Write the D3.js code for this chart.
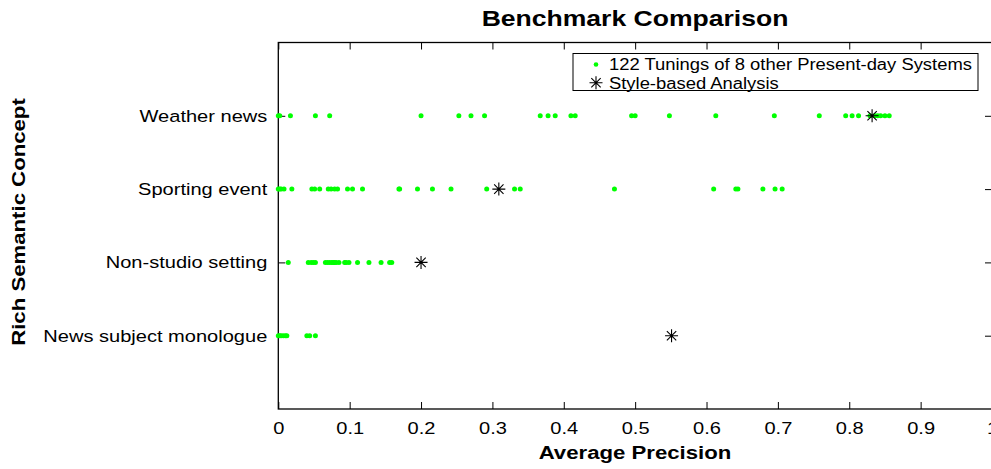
<!DOCTYPE html>
<html>
<head>
<meta charset="utf-8">
<script src="https://cdn.jsdelivr.net/npm/d3@7"></script>
<style>
  body { margin: 0; background: #fff; }
  svg { display: block; font-family: "Liberation Sans", Arial, Helvetica, sans-serif; }
</style>
</head>
<body>
<script>
// concepts, bottom to top (y = 1..4)
var concepts = ["News subject monologue", "Non-studio setting", "Sporting event", "Weather news"];

// average precision of the 122 tunings of other systems, per concept
var otherMonologue = [0, 0.002, 0.004, 0.007, 0.010, 0.012, 0.040, 0.044, 0.052];
var otherNonStudio = [0.014, 0.042, 0.046, 0.049, 0.052, 0.066, 0.069, 0.072, 0.075, 0.077, 0.079, 0.081,
  0.085, 0.093, 0.095, 0.099, 0.111, 0.127, 0.144, 0.156, 0.159];
var otherSporting = [0, 0.002, 0.004, 0.008, 0.019, 0.047, 0.051, 0.058, 0.070, 0.074, 0.079, 0.083, 0.097,
  0.104, 0.118, 0.169, 0.170, 0.195, 0.216, 0.242, 0.292, 0.331, 0.339, 0.471, 0.610, 0.641, 0.644,
  0.679, 0.696, 0.706];
var otherWeather = [0, 0.002, 0.017, 0.052, 0.072, 0.200, 0.253, 0.270, 0.289, 0.367, 0.378, 0.388, 0.410,
  0.416, 0.495, 0.500, 0.548, 0.613, 0.695, 0.758, 0.795, 0.804, 0.813, 0.829, 0.836, 0.840, 0.844,
  0.850, 0.856];
var otherSystems = [otherMonologue, otherNonStudio, otherSporting, otherWeather];

// style-based analysis, per concept
var styleBased = [0.551, 0.200, 0.309, 0.832];

var xTicks = [0, 0.1, 0.2, 0.3, 0.4, 0.5, 0.6, 0.7, 0.8, 0.9, 1];
var xTickLabels = ["0", "0.1", "0.2", "0.3", "0.4", "0.5", "0.6", "0.7", "0.8", "0.9", "1"];
var legendLabels = ["122 Tunings of 8 other Present-day Systems", "Style-based Analysis"];

var W = 991, H = 469, sx = 1.18; // text in the picture is stretched sideways
var plotL = 278.3, plotR = 992, plotT = 42.5, plotB = 409;

var svg = d3.select("body").append("svg").attr("width", W).attr("height", H);

var x = d3.scaleLinear().domain([0, 1]).range([plotL, plotR]);
var y = d3.scaleLinear().domain([0, 5]).range([plotB, plotT]);

function stretch(sel) {
  sel.attr("transform", "scale(" + sx + ",1)");
}

// axes (ticks inward, like matlab)
var gx = svg.append("g").attr("transform", "translate(0," + plotB + ")")
  .call(d3.axisBottom(x).tickValues(xTicks).tickFormat(function (d, i) { return xTickLabels[i]; })
    .tickSizeInner(-7).tickSizeOuter(0));
gx.selectAll("text").attr("y", 12.5).attr("dy", "0.71em").style("font-size", "17px").call(stretch);

svg.append("g").attr("transform", "translate(0," + plotT + ")")
  .call(d3.axisTop(x).tickValues(xTicks).tickFormat("").tickSizeInner(-7).tickSizeOuter(0));

var gy = svg.append("g").attr("transform", "translate(" + plotL + ",0)")
  .call(d3.axisLeft(y).tickValues([1, 2, 3, 4]).tickFormat(function (d) { return concepts[d - 1]; })
    .tickSizeInner(-7).tickSizeOuter(0));
gy.selectAll("text").attr("x", -11 / sx).style("font-size", "17px").call(stretch);

svg.append("g").attr("transform", "translate(" + plotR + ",0)")
  .call(d3.axisRight(y).tickValues([1, 2, 3, 4]).tickFormat("").tickSizeInner(-7).tickSizeOuter(0));

svg.selectAll(".domain").remove();
svg.selectAll(".tick line").attr("stroke", "#000").attr("stroke-width", 1);
svg.selectAll(".tick text").attr("fill", "#000");
svg.selectAll("g[font-family]").attr("font-family", null);

svg.append("rect").attr("x", plotL).attr("y", plotT).attr("width", plotR - plotL).attr("height", plotB - plotT)
  .attr("fill", "none").attr("stroke", "#000").attr("stroke-width", 1.3);

// star marker (matlab '*')
function star(g, r) {
  var d = r * 0.72;
  g.append("path")
    .attr("d", "M" + (-r) + ",0H" + r + "M0," + (-r) + "V" + r +
      "M" + (-d) + "," + (-d) + "L" + d + "," + d + "M" + (-d) + "," + d + "L" + d + "," + (-d))
    .attr("stroke", "#000").attr("stroke-width", 1.1).attr("fill", "none");
}

// points
var pts = [];
otherSystems.forEach(function (arr, i) {
  arr.forEach(function (v) { pts.push({ v: v, c: i + 1 }); });
});
svg.append("g").selectAll("circle").data(pts).enter().append("circle")
  .attr("cx", function (d) { return x(d.v); })
  .attr("cy", function (d) { return y(d.c); })
  .attr("r", 2.5).attr("fill", "#00ff00");

svg.append("g").selectAll("g").data(styleBased).enter().append("g")
  .attr("transform", function (d, i) { return "translate(" + x(d) + "," + y(i + 1) + ")"; })
  .each(function () { star(d3.select(this), 6.5); });

// legend
var lg = svg.append("g");
lg.append("rect").attr("x", 573).attr("y", 53.5).attr("width", 405).attr("height", 37)
  .attr("fill", "#fff").attr("stroke", "#000").attr("stroke-width", 1);
lg.append("circle").attr("cx", 596).attr("cy", 64.5).attr("r", 2.3).attr("fill", "#00ff00");
star(lg.append("g").attr("transform", "translate(596,82.8)"), 6.5);
lg.selectAll("text.lab").data(legendLabels).enter().append("text").attr("class", "lab")
  .attr("x", 609 / sx).attr("y", function (d, i) { return i ? 88.6 : 70.2; })
  .style("font-size", "15.6px").text(function (d) { return d; }).call(stretch);

// title and axis labels
svg.append("text").attr("x", 635 / sx).attr("y", 26).attr("text-anchor", "middle")
  .style("font-size", "22.5px").style("font-weight", "bold").text("Benchmark Comparison").call(stretch);

svg.append("text").attr("x", 635 / sx).attr("y", 459).attr("text-anchor", "middle")
  .style("font-size", "18.8px").style("font-weight", "bold").text("Average Precision").call(stretch);

svg.append("text").attr("transform", "translate(25,222) rotate(-90) scale(" + sx + ",1)")
  .attr("text-anchor", "middle")
  .style("font-size", "18.8px").style("font-weight", "bold").text("Rich Semantic Concept");
</script>
</body>
</html>
